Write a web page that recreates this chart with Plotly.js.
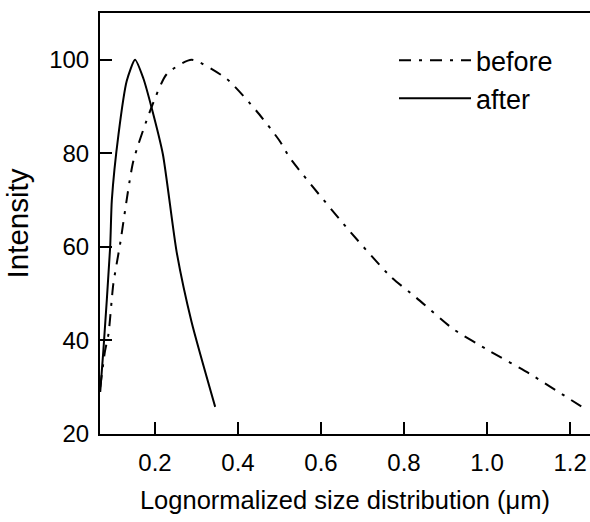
<!DOCTYPE html>
<html><head><meta charset="utf-8">
<script src="https://cdn.plot.ly/plotly-3.0.1.min.js"></script>
<style>html,body{margin:0;padding:0;background:#fff}</style>
</head><body><div id="chart" style="width:590px;height:522px"></div>
<script>
var beforeX = [0.068, 0.0795, 0.088, 0.0995, 0.1157, 0.1477, 0.188, 0.228, 0.288, 0.373, 0.445, 0.5, 0.525, 0.662, 0.766, 0.83, 0.919, 1.007, 1.104, 1.232];
var beforeY = [30, 37.7, 41.4, 52, 60.5, 78.3, 89, 96.9, 100, 95.9, 89, 82.7, 79, 64.1, 53.8, 49.1, 42.4, 37.7, 32.8, 25.6];
var afterX = [0.068, 0.0755, 0.092, 0.096, 0.112, 0.132, 0.152, 0.172, 0.192, 0.219, 0.252, 0.288, 0.345];
var afterY = [29, 37.7, 60, 70, 84, 95.5, 100, 96, 89.7, 79.8, 59, 44, 25.8];
var xTicks = [0.2, 0.4, 0.6, 0.8, 1.0, 1.2];
var xTickText = ['0.2', '0.4', '0.6', '0.8', '1.0', '1.2'];
var yTicks = [20, 40, 60, 80, 100];

var font = 'Liberation Sans, Arial, Helvetica, sans-serif';
var traces = [
  {x: beforeX, y: beforeY, name: 'before', mode: 'lines', line: {color: '#000', width: 2, dash: '12px,8px,3px,8px', shape: 'spline', smoothing: 0.6}},
  {x: afterX, y: afterY, name: 'after', mode: 'lines', line: {color: '#000', width: 2, shape: 'spline', smoothing: 0.6}}
];
var layout = {
  width: 590, height: 522,
  margin: {l: 100, r: 0, t: 13, b: 88},
  paper_bgcolor: '#fff', plot_bgcolor: '#fff',
  font: {family: font, color: '#000', size: 24},
  showlegend: true,
  legend: {x: 0.6, y: 0.945, xanchor: 'left', yanchor: 'top', font: {size: 27, family: font}, bgcolor: 'rgba(0,0,0,0)', itemwidth: 72, tracegroupgap: 0},
  xaxis: {
    range: [0.0675, 1.248], tickvals: xTicks, ticktext: xTickText,
    ticks: 'inside', ticklen: 12, tickwidth: 2, tickcolor: '#000',
    showline: true, linewidth: 2, linecolor: '#000', mirror: true,
    showgrid: false, zeroline: false, ticklabelstandoff: 6,
    tickfont: {size: 24},
    title: {text: 'Lognormalized size distribution (μm)', font: {size: 25.5}, standoff: 16}
  },
  yaxis: {
    range: [20, 110], tickvals: yTicks,
    ticks: 'inside', ticklen: 12, tickwidth: 2, tickcolor: '#000',
    showline: true, linewidth: 2, linecolor: '#000',
    showgrid: false, zeroline: false, ticklabelstandoff: 4,
    tickfont: {size: 24},
    title: {text: 'Intensity', font: {size: 29.5}, standoff: 12}
  }
};
Plotly.newPlot('chart', traces, layout, {displayModeBar: false, staticPlot: true});
</script></body></html>
